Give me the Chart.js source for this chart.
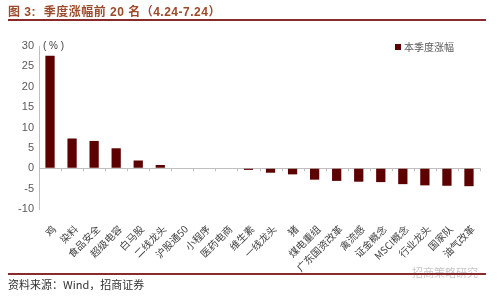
<!DOCTYPE html>
<html lang="zh">
<head>
    <meta charset="UTF-8">
    <title>季度涨幅前 20 名</title>
    <style>
        body { margin: 0; width: 500px; height: 296px; background: #fff; position: relative; overflow: hidden;
               font-family: "Liberation Sans", "Noto Sans CJK SC", sans-serif; }
        #wrap { position: absolute; left: 0; top: 0; width: 500px; height: 296px; }
        .title { position: absolute; left: 8px; top: 2px; font-size: 12px; font-weight: bold; color: #9c4a2b;
                 font-family: "Liberation Sans", "Noto Sans CJK SC", sans-serif; letter-spacing: 0.5px; }
        .rule { position: absolute; left: 8px; width: 478px; height: 2px; background: #8b2a2a; }
        .src { position: absolute; left: 8px; top: 276px; font-size: 11px; color: #333;
               font-family: "Noto Sans CJK SC", sans-serif; }
        .unit { position: absolute; left: 43px; top: 40px; font-size: 10px; color: #404040; }
        .legend { position: absolute; left: 395px; top: 39px; font-size: 10px; color: #595959;
                  font-family: "Noto Sans CJK SC", sans-serif; }
        .legend i { display: inline-block; width: 6px; height: 6px; background: #5c0000; margin-right: 3px; vertical-align: 1px; }
        .mark { position: absolute; left: 412px; top: 264px; font-size: 11px; color: #c8c8c8;
                font-family: "Noto Sans CJK SC", sans-serif; }
    </style>
</head>
<body>
    <div id="wrap"><canvas id="chart" width="500" height="296"></canvas></div>
    <div class="title">图 3:&nbsp; 季度涨幅前 20 名（4.24-7.24）</div>
    <div class="rule" style="top:19px"></div>
    <div class="unit">( % )</div>
    <div class="legend"><i></i>本季度涨幅</div>
    <div class="mark">招商策略研究</div>
    <div class="rule" style="top:273px;height:1.5px"></div>
    <div class="src">资料来源：Wind，招商证券</div>

    <script src="https://cdn.jsdelivr.net/npm/chart.js"></script>
    <script>
        // 板块名称
        const categories = ['鸡', '染料', '食品安全', '超级电容', '白马股', '二线龙头', '沪股通50', '小程序', '医药电商', '维生素',
            '一线龙头', '猪', '煤电重组', '广东国资改革', '禽流感', '证金概念', 'MSCI概念', '行业龙头', '国家队', '油气改革'];
        // 本季度涨幅 (%)
        const gains = [27.6, 7.3, 6.7, 4.9, 1.9, 0.8, 0, 0, 0, -0.4,
            -1.1, -1.5, -2.8, -3.1, -3.3, -3.4, -3.9, -4.2, -4.3, -4.4];
        const yTicks = [-10, -5, 0, 5, 10, 15, 20, 25, 30];

        // 零轴上的小刻度
        const zeroTicks = {
            id: 'zeroTicks',
            afterDraw(chart) {
                const x = chart.scales.x, y = chart.scales.y, ctx = chart.ctx;
                const y0 = y.getPixelForValue(0);
                ctx.save();
                ctx.strokeStyle = '#bfbfbf';
                ctx.lineWidth = 1;
                for (let i = 0; i <= categories.length; i++) {
                    const px = Math.round(x.getPixelForValue(i - 0.5)) + 0.5;
                    ctx.beginPath();
                    ctx.moveTo(px, y0);
                    ctx.lineTo(px, y0 + 3);
                    ctx.stroke();
                }
                ctx.restore();
            }
        };

        new Chart(document.getElementById('chart'), {
            type: 'bar',
            data: {
                labels: categories,
                datasets: [{
                    label: '本季度涨幅',
                    data: gains,
                    backgroundColor: '#5c0000',
                    barPercentage: 0.42,
                    categoryPercentage: 1
                }]
            },
            plugins: [zeroTicks],
            options: {
                responsive: false,
                animation: false,
                layout: { padding: { top: 46, right: 20, left: 0, bottom: 0 } },
                plugins: { legend: { display: false }, tooltip: { enabled: false } },
                scales: {
                    x: {
                        grid: { display: false },
                        border: { display: false },
                        ticks: {
                            minRotation: 45, maxRotation: 45, autoSkip: false, padding: 6, labelOffset: 4,
                            color: '#404040',
                            font: { size: 10, family: '"Noto Sans CJK SC", sans-serif' }
                        },
                        afterFit(s) { s.height = 87; }
                    },
                    y: {
                        min: -10, max: 30,
                        afterBuildTicks(s) { s.ticks = yTicks.map(v => ({ value: v })); },
                        grid: {
                            drawTicks: false,
                            color: c => c.tick && c.tick.value === 0 ? '#bfbfbf' : 'rgba(0,0,0,0)'
                        },
                        border: { color: '#bfbfbf' },
                        ticks: {
                            padding: 5, color: '#595959',
                            font: { size: 11, family: '"Liberation Sans", Arial, sans-serif' }
                        },
                        afterFit(s) { s.width = 39; }
                    }
                }
            }
        });
    </script>
</body>
</html>
